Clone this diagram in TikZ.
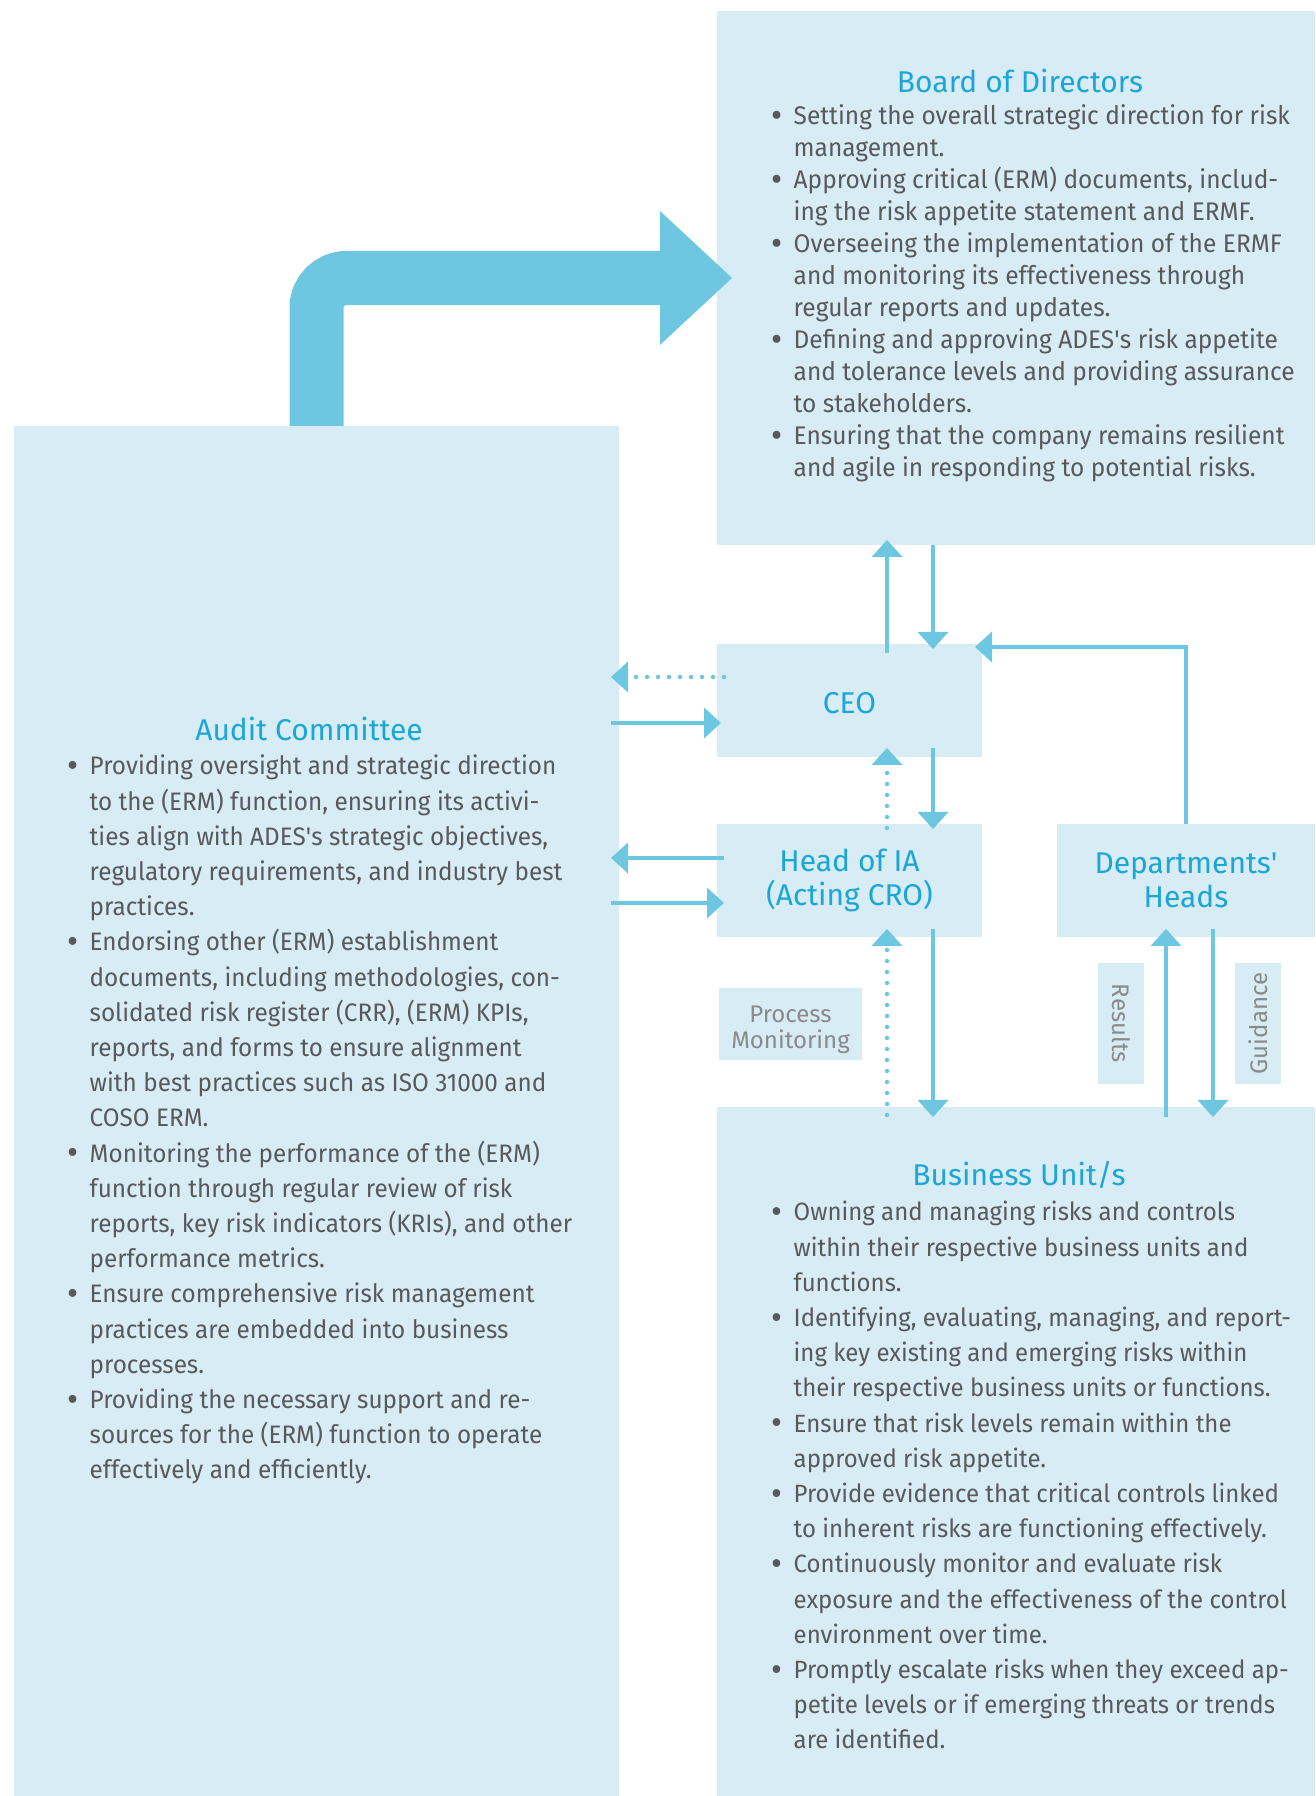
\documentclass[tikz,border=0pt]{standalone}
\usepackage{fontspec}
\usepackage{graphicx}
\setmainfont{Fira Sans}
\newfontfamily\listfont[FakeStretch=0.96]{Fira Sans}
\usetikzlibrary{arrows.meta}

\definecolor{boxblue}{RGB}{215,236,245}
\definecolor{arrowblue}{RGB}{110,199,225}
\definecolor{headblue}{RGB}{27,166,214}
\definecolor{bodygray}{RGB}{88,89,91}
\definecolor{labelgray}{RGB}{138,138,138}

\tikzset{
  panel/.style={fill=boxblue, inner sep=0pt, outer sep=0pt},
  role/.style={text=headblue, font=\fontsize{30}{34.5}\selectfont, align=center},
  duties/.style={anchor=base west, inner sep=0pt, text=bodygray},
  tag/.style={panel, text=labelgray, font=\fontsize{24}{26}\selectfont, align=center},
  link/.style={arrowblue, line width=4.5pt, -{Triangle[length=17pt,width=31pt,line width=0pt]}},
  dotlink/.style={link, line cap=round, dash pattern=on 0pt off 11pt},
  bigarrow/.style={arrowblue, line width=54pt, rounded corners=30pt,
    -{Triangle[length=72pt,width=134pt,line width=0pt]}},
}
\newcommand{\bul}{\makebox[9pt][c]{\raisebox{-2.5pt}{\scalebox{1.4}{\textbullet}}}}
\newcommand{\riskitems}[1]{\begin{tabular}[t]{@{}l@{\hspace{12.5pt}}l@{}}#1\end{tabular}}

\begin{document}
\begin{tikzpicture}[x=1pt,y=1pt]
\useasboundingbox (0,0) rectangle (1315,1796);

% boxes
\node[panel, minimum width=598pt, minimum height=534pt] (board) at (1016,1518) {};
\node[panel, minimum width=605pt, minimum height=1370pt] (audit) at (316.5,685) {};
\node[panel, minimum width=598pt, minimum height=689pt] (bu) at (1016,344.5) {};
\node[panel, role, minimum width=265pt, minimum height=113pt, text height=27pt, text depth=0pt] (ceo) at (849.5,1095.5) {CEO};
\node[panel, role, minimum width=265pt, minimum height=113pt] (ia) at (849.5,915.5) {Head of IA\\(Acting CRO)};
\node[panel, role, minimum width=258pt, minimum height=113pt] (dept) at (1186,915.5) {Departments\textquotesingle\\Heads};
\node[tag, minimum width=143pt, minimum height=72pt] (monitor) at (790.5,772) {\rule{0pt}{28pt}Process\\Monitoring};
\node[tag, rotate=-90, minimum width=121pt, minimum height=46pt] (results) at (1121,772.5) {Results};
\node[tag, rotate=90, minimum width=121pt, minimum height=46pt] (guidance) at (1258,772.5) {Guidance};

% texts
\node[role, anchor=base] (boardtitle) at ([xshift=4pt,yshift=-82pt]board.north) {Board of Directors};
\node[duties, font=\listfont\fontsize{25.5}{32}\selectfont] (boardlist) at ([xshift=55pt,yshift=-114pt]board.north west) {\riskitems{
\bul & Setting the overall strategic direction for risk\\
 & management.\\
\bul & Approving critical (ERM) documents, includ-\\
 & ing the risk appetite statement and ERMF.\\
\bul & Overseeing the implementation of the ERMF\\
 & and monitoring its effectiveness through\\
 & regular reports and updates.\\
\bul & Defining and approving ADES\textquotesingle s risk appetite\\
 & and tolerance levels and providing assurance\\
 & to stakeholders.\\
\bul & Ensuring that the company remains resilient\\
 & and agile in responding to potential risks.}};

\node[role, anchor=base] (audittitle) at ([xshift=-7.5pt,yshift=-314.5pt]audit.north) {Audit Committee};
\node[duties, font=\listfont\fontsize{25.3}{35.2}\selectfont] (auditlist) at ([xshift=54pt,yshift=-349pt]audit.north west) {\riskitems{
\bul & Providing oversight and strategic direction\\
 & to the (ERM) function, ensuring its activi-\\
 & ties align with ADES\textquotesingle s strategic objectives,\\
 & regulatory requirements, and industry best\\
 & practices.\\
\bul & Endorsing other (ERM) establishment\\
 & documents, including methodologies, con-\\
 & solidated risk register (CRR), (ERM) KPIs,\\
 & reports, and forms to ensure alignment\\
 & with best practices such as ISO 31000 and\\
 & COSO ERM.\\
\bul & Monitoring the performance of the (ERM)\\
 & function through regular review of risk\\
 & reports, key risk indicators (KRIs), and other\\
 & performance metrics.\\
\bul & Ensure comprehensive risk management\\
 & practices are embedded into business\\
 & processes.\\
\bul & Providing the necessary support and re-\\
 & sources for the (ERM) function to operate\\
 & effectively and efficiently.}};

\node[role, anchor=base] (butitle) at ([xshift=3pt,yshift=-78.5pt]bu.north) {Business Unit/s};
\node[duties, font=\listfont\fontsize{25}{35.2}\selectfont] (bulist) at ([xshift=55pt,yshift=-114pt]bu.north west) {\riskitems{
\bul & Owning and managing risks and controls\\
 & within their respective business units and\\
 & functions.\\
\bul & Identifying, evaluating, managing, and report-\\
 & ing key existing and emerging risks within\\
 & their respective business units or functions.\\
\bul & Ensure that risk levels remain within the\\
 & approved risk appetite.\\
\bul & Provide evidence that critical controls linked\\
 & to inherent risks are functioning effectively.\\
\bul & Continuously monitor and evaluate risk\\
 & exposure and the effectiveness of the control\\
 & environment over time.\\
\bul & Promptly escalate risks when they exceed ap-\\
 & petite levels or if emerging threats or trends\\
 & are identified.}};

% audit committee to board
\draw[bigarrow] (audit.north) |- ([xshift=15pt]board.west);

% board and ceo
\draw[link] ([xshift=37.5pt,yshift=-9pt]ceo.north) -- ([xshift=37.5pt,yshift=5pt]ceo.north |- board.south);
\draw[link] ([xshift=83.5pt]ceo.north |- board.south) -- ([xshift=83.5pt,yshift=-5pt]ceo.north);

% ceo and head of IA
\draw[link] ([xshift=83.5pt,yshift=9pt]ceo.south) -- ([xshift=83.5pt,yshift=-5pt]ia.north);
\draw[dotlink] ([xshift=37.5pt,yshift=-4pt]ia.north) -- ([xshift=37.5pt,yshift=9pt]ceo.south);

% head of IA and business units
\draw[link] ([xshift=83.5pt,yshift=8pt]ia.south) -- ([xshift=83.5pt,yshift=-10pt]ia.south |- bu.north);
\draw[dotlink] ([xshift=37.5pt,yshift=-8pt]ia.south |- bu.north) -- ([xshift=37.5pt,yshift=8pt]ia.south);

% audit committee links
\draw[dotlink] ([xshift=7pt,yshift=23.5pt]ceo.west) -- ([xshift=-8pt,yshift=23.5pt]ceo.west -| audit.east);
\draw[link] ([xshift=-8pt,yshift=-22.5pt]ceo.west -| audit.east) -- ([xshift=4pt,yshift=-22.5pt]ceo.west);
\draw[link] ([xshift=7pt,yshift=22.5pt]ia.west) -- ([xshift=-8pt,yshift=22.5pt]ia.west -| audit.east);
\draw[link] ([xshift=-8pt,yshift=-22.5pt]ia.west -| audit.east) -- ([xshift=7pt,yshift=-22.5pt]ia.west);

% departments' heads
\draw[link] (dept.north) |- ([xshift=-7pt,yshift=-3pt]ceo.north east);
\draw[link] ([xshift=-20pt,yshift=-10pt]dept.south |- bu.north) -- ([xshift=-20pt,yshift=8pt]dept.south);
\draw[link] ([xshift=27pt,yshift=8pt]dept.south) -- ([xshift=27pt,yshift=-10pt]dept.south |- bu.north);
\end{tikzpicture}
\end{document}
